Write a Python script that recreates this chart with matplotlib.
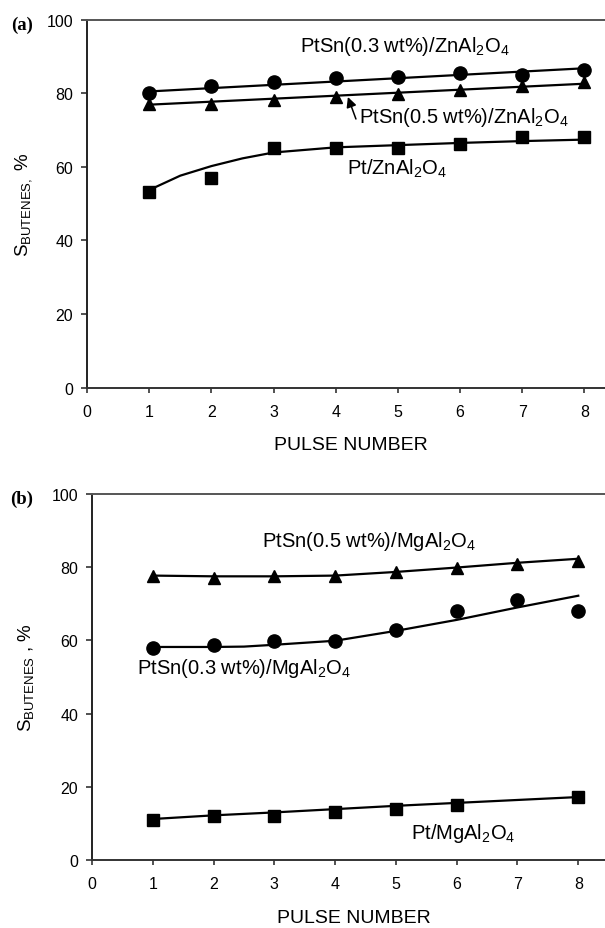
import matplotlib.pyplot as plt

plt.rcParams['font.family'] = ['Liberation Sans', 'DejaVu Sans']
plt.rcParams['mathtext.fontset'] = 'custom'
plt.rcParams['mathtext.rm'] = 'Liberation Sans'

# panel (a): ZnAl2O4 supports
pulses = [1, 2, 3, 4, 5, 6, 7, 8]
zn_ptsn03 = [80.0, 82.1, 83.2, 84.1, 84.3, 85.4, 85.1, 86.2]
zn_ptsn05 = [77.1, 77.1, 78.2, 78.9, 79.8, 81.0, 81.9, 83.0]
zn_pt = [53.1, 57.0, 65.2, 65.2, 65.0, 66.2, 68.1, 68.1]

# trend lines
fit_x = [1, 8]
zn_ptsn03_fit = [80.5, 86.8]
zn_ptsn05_fit = [76.9, 82.6]
zn_pt_fit_x = [1, 1.5, 2, 2.5, 3, 4, 5, 6, 7, 8]
zn_pt_fit = [53.7, 57.6, 60.2, 62.3, 63.9, 65.3, 65.9, 66.5, 67.0, 67.4]

# panel (b): MgAl2O4 supports
mg_ptsn05 = [77.7, 77.0, 77.7, 77.7, 78.8, 79.9, 80.9, 81.8]
mg_ptsn03 = [57.9, 58.8, 59.9, 59.9, 62.9, 67.9, 71.0, 67.9]
mg_pt_x = [1, 2, 3, 4, 5, 6, 8]
mg_pt = [11.0, 12.1, 12.1, 13.0, 13.9, 15.0, 17.1]

mg_ptsn05_fit = [77.7, 77.5, 77.5, 77.7, 78.7, 79.9, 81.2, 82.3]
mg_ptsn03_fit_x = [1, 2, 2.5, 3, 4, 5, 6, 7, 8]
mg_ptsn03_fit = [58.2, 58.2, 58.3, 58.8, 59.9, 62.6, 65.6, 69.0, 72.2]
mg_pt_fit = [11.2, 12.2, 13.0, 13.9, 14.8, 15.6, 16.4, 17.2]

fig = plt.figure(figsize=(6.05, 9.29), dpi=100)
ax1 = fig.add_axes([0.1438, 0.5818, 0.8562, 0.3959])
ax2 = fig.add_axes([0.1521, 0.0732, 0.8479, 0.394])

fs_tick = 11.5
fs_lab = 14
fs_note = 14.5
for ax, xmax in [(ax1, 8.33), (ax2, 8.44)]:
    ax.set_xlim(0, xmax)
    ax.set_ylim(0, 100)
    ax.set_xticks(range(0, 9))
    ax.set_yticks(range(0, 101, 20))
    ax.spines['right'].set_visible(False)
    ax.spines['left'].set_linewidth(1.4)
    ax.spines['left'].set_color('#222222')
    ax.spines['bottom'].set_linewidth(1.4)
    ax.spines['bottom'].set_color('#333333')
    ax.spines['top'].set_linewidth(1.4)
    ax.spines['top'].set_color('#555555')
    ax.tick_params(axis='y', direction='out', length=4.5, width=1.2,
                   color='#333333', labelsize=fs_tick, pad=5.5)
    ax.tick_params(axis='x', direction='out', length=3.6, width=1.2,
                   color='#333333', labelsize=fs_tick, pad=8)
    ax.set_xlabel('PULSE NUMBER', fontsize=fs_lab)
    ax.xaxis.set_label_coords(0.51, -0.133)

ax1.set_ylabel(r'S$_{\mathregular{BUTENES,}}$ %', fontsize=13.5)
ax2.set_ylabel(r'S$_{\mathregular{BUTENES}}$ , %', fontsize=13.5)
ax1.yaxis.set_label_coords(-0.100, 0.5)
ax2.yaxis.set_label_coords(-0.108, 0.5)

# panel (a)
ax1.plot(fit_x, zn_ptsn03_fit, color='black', lw=1.6)
ax1.plot(fit_x, zn_ptsn05_fit, color='black', lw=1.6)
ax1.plot(zn_pt_fit_x, zn_pt_fit, color='black', lw=1.6)
ax1.plot(pulses, zn_ptsn03, 'o', color='black', ms=9.5, clip_on=False)
ax1.plot(pulses, zn_ptsn05, '^', color='black', ms=9, clip_on=False)
ax1.plot(pulses, zn_pt, 's', color='black', ms=9, clip_on=False)

ax1.text(3.42, 92.9, r'PtSn(0.3 wt%)/ZnAl$_{\mathregular{2}}$O$_{\mathregular{4}}$',
         fontsize=fs_note, ha='left', va='center')
ax1.text(4.37, 73.7, r'PtSn(0.5 wt%)/ZnAl$_{\mathregular{2}}$O$_{\mathregular{4}}$',
         fontsize=fs_note, ha='left', va='center')
ax1.annotate('', xy=(4.18, 79.7), xytext=(4.34, 72.3),
             arrowprops=dict(arrowstyle='-|>', color='black', lw=1.1,
                             mutation_scale=15))
ax1.text(4.18, 59.8, r'Pt/ZnAl$_{\mathregular{2}}$O$_{\mathregular{4}}$',
         fontsize=fs_note, ha='left', va='center')

# panel (b)
ax2.plot(pulses, mg_ptsn05_fit, color='black', lw=1.6)
ax2.plot(mg_ptsn03_fit_x, mg_ptsn03_fit, color='black', lw=1.6)
ax2.plot(pulses, mg_pt_fit, color='black', lw=1.6)
ax2.plot(pulses, mg_ptsn05, '^', color='black', ms=9, clip_on=False)
ax2.plot(pulses, mg_ptsn03, 'o', color='black', ms=9.5, clip_on=False)
ax2.plot(mg_pt_x, mg_pt, 's', color='black', ms=9, clip_on=False)

ax2.text(2.80, 87.2, r'PtSn(0.5 wt%)/MgAl$_{\mathregular{2}}$O$_{\mathregular{4}}$',
         fontsize=fs_note, ha='left', va='center')
ax2.text(0.735, 52.7, r'PtSn(0.3 wt%)/MgAl$_{\mathregular{2}}$O$_{\mathregular{4}}$',
         fontsize=fs_note, ha='left', va='center')
ax2.text(5.25, 7.6, r'Pt/MgAl$_{\mathregular{2}}$O$_{\mathregular{4}}$',
         fontsize=fs_note, ha='left', va='center')

fig.text(0.019, 0.973, '(a)', fontsize=13.5, fontweight='bold',
         family='Liberation Serif', va='center')
fig.text(0.016, 0.463, '(b)', fontsize=13.5, fontweight='bold',
         family='Liberation Serif', va='center')

fig.savefig('out.png', dpi=100)
